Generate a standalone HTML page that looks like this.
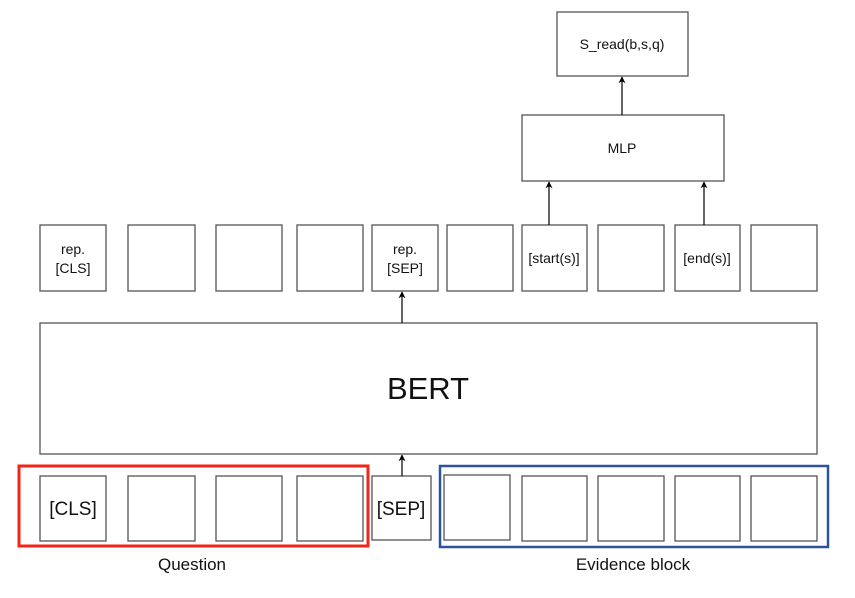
<!DOCTYPE html>
<html><head><style>
body{margin:0;background:#fff;}
svg text{font-family:"Liberation Sans",sans-serif;fill:#111;}
</style></head><body>
<svg width="855" height="593" viewBox="0 0 855 593" xmlns="http://www.w3.org/2000/svg">
<defs><marker id="a" viewBox="0 0 10 10" refX="9" refY="5" markerWidth="7" markerHeight="7" markerUnits="userSpaceOnUse" orient="auto"><path d="M0,0 L10,5 L0,10 L3,5 Z" fill="#000"/></marker></defs>
<g fill="#fff" stroke="#555" stroke-width="1.3">
<rect x="557" y="12" width="131" height="64"/>
<rect x="522" y="115" width="202" height="66"/>
<rect x="40" y="225" width="66" height="66"/>
<rect x="128" y="225" width="67" height="66"/>
<rect x="216" y="225" width="66" height="66"/>
<rect x="297" y="225" width="66" height="66"/>
<rect x="372" y="225" width="66" height="66"/>
<rect x="447" y="225" width="66" height="66"/>
<rect x="522" y="225" width="65" height="66"/>
<rect x="598" y="225" width="66" height="66"/>
<rect x="675" y="225" width="65" height="66"/>
<rect x="751" y="225" width="66" height="66"/>
<rect x="40" y="323" width="777" height="131"/>
<rect x="40" y="476" width="66" height="65"/>
<rect x="128" y="476" width="67" height="65"/>
<rect x="216" y="476" width="66" height="65"/>
<rect x="297" y="476" width="66" height="65"/>
<rect x="372" y="476" width="59" height="64"/>
<rect x="444" y="475" width="66" height="65"/>
<rect x="522" y="476" width="65" height="65"/>
<rect x="598" y="476" width="66" height="65"/>
<rect x="675" y="476" width="65" height="65"/>
<rect x="751" y="476" width="66" height="65"/>
</g>
<rect x="19" y="466" width="349" height="80" fill="none" stroke="#f0261a" stroke-width="3"/>
<rect x="440" y="466" width="388" height="81" fill="none" stroke="#2d549a" stroke-width="2.5"/>
<g stroke="#000" stroke-width="1.2" marker-end="url(#a)">
<line x1="622" y1="115" x2="622" y2="77"/>
<line x1="549" y1="225" x2="549" y2="182"/>
<line x1="704" y1="225" x2="704" y2="182"/>
<line x1="402" y1="323" x2="402" y2="292"/>
<line x1="402" y1="476" x2="402" y2="455"/>
</g>
<g font-size="14" text-anchor="middle">
<text x="622" y="49">S_read(b,s,q)</text>
<text x="622" y="153">MLP</text>
<text x="73" y="254">rep.</text><text x="73" y="273">[CLS]</text>
<text x="405" y="254">rep.</text><text x="405" y="273">[SEP]</text>
<text x="554" y="263">[start(s)]</text>
<text x="707" y="263">[end(s)]</text>
</g>
<text x="428" y="399" font-size="31" text-anchor="middle">BERT</text>
<text x="73" y="515" font-size="19" text-anchor="middle">[CLS]</text>
<text x="401" y="515" font-size="19" text-anchor="middle">[SEP]</text>
<text x="192" y="570" font-size="17" text-anchor="middle">Question</text>
<text x="633" y="570" font-size="17" text-anchor="middle">Evidence block</text>
</svg>
</body></html>
